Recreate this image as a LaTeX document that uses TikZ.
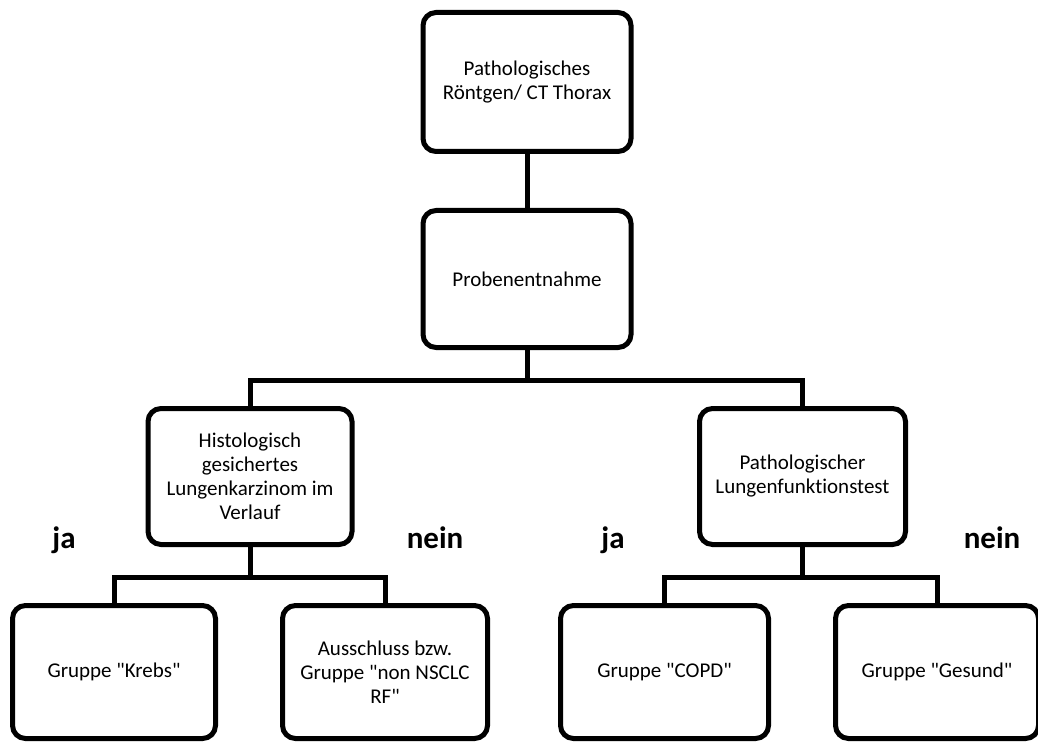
\documentclass[tikz,border=0pt]{standalone}
\usepackage{fontspec}
\setmainfont{Carlito}[Ligatures={TeXOff,NoCommon}]
\begin{document}
\begin{tikzpicture}[x=1pt,y=-1pt,
  box/.style={draw=black, line width=5pt, rounded corners=13pt, fill=white,
    minimum width=205pt, minimum height=136pt, align=center, inner sep=2pt,
    font=\fontsize{21}{24}\selectfont},
  conn/.style={draw=black, line width=5pt},
  lbl/.style={anchor=base, font=\fontsize{31}{36}\selectfont\bfseries}]
\useasboundingbox (0,0) rectangle (1038,743);
\fill[white] (0,0) rectangle (1038,743);
\node[box, minimum width=208pt, minimum height=139pt] (T) at (527,82) {Pathologisches\\Röntgen/ CT Thorax};
\node[box, minimum width=208pt, minimum height=137pt] (P) at (527,279) {Probenentnahme};
\node[box, minimum width=204pt] (H) at (250,476.5) {Histologisch\\gesichertes\\Lungenkarzinom im\\Verlauf};
\node[box, minimum width=206pt] (L) at (802.5,476.5) {Pathologischer\\Lungenfunktionstest};
\node[box, minimum width=203pt, minimum height=133pt] (K) at (114,672) {Gruppe "Krebs"};
\node[box, minimum width=205pt, minimum height=133pt] (A) at (385,672) {Ausschluss bzw.\\Gruppe "non NSCLC\\RF"};
\node[box, minimum width=208pt, minimum height=133pt] (C) at (664.5,672) {Gruppe "COPD"};
\node[box, minimum width=203pt, minimum height=133pt] (G) at (937,672) {Gruppe "Gesund"};
\draw[conn] (T.south) -- (P.north);
\draw[conn] (P.south) -- ++(0,30) coordinate (pj) -| (H.north);
\draw[conn] (pj) -| (L.north);
\draw[conn] (H.south) -- ++(0,30) coordinate (hj) -| (K.north);
\draw[conn] (hj) -| (A.north);
\draw[conn] (L.south) -- ++(0,30) coordinate (lj) -| (C.north);
\draw[conn] (lj) -| (G.north);
\node[lbl] (ja1) at (64,548) {ja};
\node[lbl] (nein1) at (435,548) {nein};
\node[lbl] (ja2) at (613,548) {ja};
\node[lbl] (nein2) at (992,548) {nein};
\end{tikzpicture}
\end{document}
